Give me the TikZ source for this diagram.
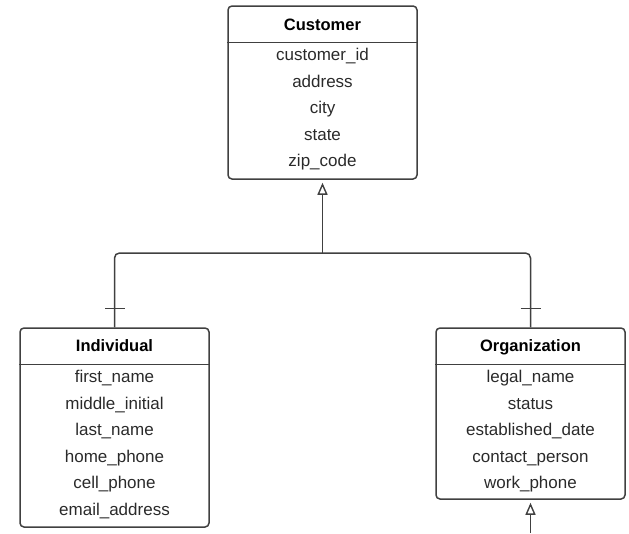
\documentclass[tikz,border=0pt]{standalone}
\usepackage{fontspec}
\setmainfont{Liberation Sans}
\usepackage{tikz,xcolor}
\usetikzlibrary{arrows.meta,decorations.markings}
\definecolor{edge}{HTML}{404040}
\definecolor{ink}{HTML}{2A2A2A}
\tikzset{
  % outline of an entity box
  entity/.style={draw=edge, line width=1.5pt, rounded corners=4pt,
    minimum width=189pt, inner sep=0pt},
  title/.style={font=\fontsize{16.5}{19}\selectfont\bfseries, text=black,
    text height=0.75em, text depth=0.25em},
  attr/.style={font=\fontsize{17}{20}\selectfont, text=ink,
    text height=0.75em, text depth=0.25em},
  link/.style={draw=edge, line width=1.5pt},
  % hollow triangle for the generalisation
  gen/.style={link, -{Triangle[open, length=12pt, width=10pt, line width=1.4pt]},
    shorten >=3pt},
  % short bars across the two branches
  bars/.style={postaction={decorate,decoration={markings,
        mark=at position 19pt with {\draw[link] (0pt,-10pt) -- (0pt,10pt);},
        mark=at position -19pt with {\draw[link] (0pt,-10pt) -- (0pt,10pt);}
      }}},
}
\begin{document}
\begin{tikzpicture}[x=1pt,y=-1pt]
\useasboundingbox (0,0) rectangle (629,533);
  % Customer
  \node[entity, minimum height=173pt] (customer) at (322.5,92.5) {};
  \draw[link] ([yshift=-37pt]customer.north west) -- ([yshift=-37pt]customer.north east);
  \node[title] (customer-t) at (322.5,28) {Customer};
  \foreach \a [count=\i] in {customer\_id,address,city,state,zip\_code}
    \node[attr] (customer-\i) at (322.5,{58+26.5*(\i-1)}) {\a};
  % Individual
  \node[entity, minimum height=199pt] (individual) at (114.5,427.5) {};
  \draw[link] ([yshift=-37pt]individual.north west) -- ([yshift=-37pt]individual.north east);
  \node[title] (individual-t) at (114.5,349) {Individual};
  \foreach \a [count=\i] in {first\_name,middle\_initial,last\_name,home\_phone,cell\_phone,email\_address}
    \node[attr] (individual-\i) at (114.5,{380+26.5*(\i-1)}) {\a};
  % Organization
  \node[entity, minimum height=171pt] (organization) at (530.5,413.5) {};
  \draw[link] ([yshift=-37pt]organization.north west) -- ([yshift=-37pt]organization.north east);
  \node[title] (organization-t) at (530.5,349) {Organization};
  \foreach \a [count=\i] in {legal\_name,status,established\_date,contact\_person,work\_phone}
    \node[attr] (organization-\i) at (530.5,{380+26.5*(\i-1)}) {\a};
  % connectors
  \coordinate (split) at (322.5,253);
  \coordinate (below) at (530.5,533);
  \draw[gen] (split) -- (customer.south);
  \draw[link, rounded corners=5pt, bars] (individual.north) |- (split) -| (organization.north);
  \draw[gen] (below) -- (organization.south);
\end{tikzpicture}
\end{document}
